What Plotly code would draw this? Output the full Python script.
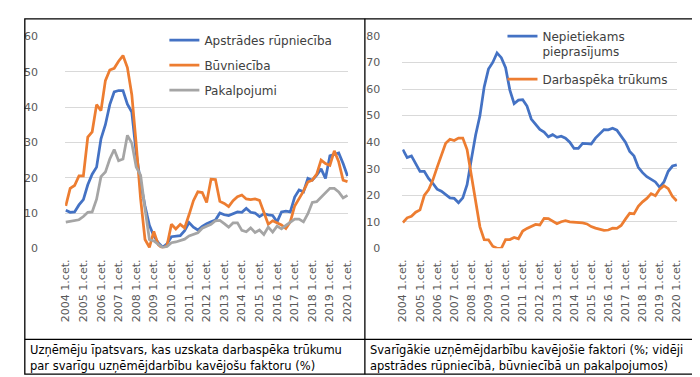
import plotly.graph_objects as go

years = list(range(2004, 2021))
quarters = [f"{y} {q}.cet." for y in years for q in range(1, 5)][:65]
tick_labels = [f"{y} 1.cet." for y in years]

apstrades = [10.8, 10.2, 10.3, 12.3, 13.8, 18, 21, 23, 31, 35, 40.7, 44.3, 44.7, 44.7, 40.8, 38.6,
             27, 18.5, 12, 6.5, 3.5, 1.6, 0.3, 1.3, 3.3, 3.4, 3.6, 5, 7.3, 6, 5.2, 6.2,
             7, 7.5, 8, 10, 9.5, 9.3, 9.8, 10.3, 10.2, 11.3, 10.2, 10, 9, 9.8, 9.5, 9.3,
             7.5, 10.3, 10.5, 10.3, 14.5, 16.5, 16, 19.8, 19.3, 20.7, 22.5, 19.8, 26.2, 26.6, 27, 24,
             20.5]
buvnieciba = [12, 17, 17.8, 20.5, 20.5, 31.5, 33, 40.7, 39, 47.5, 50.5, 51, 53, 54.6, 51.2, 43.5,
              29.5, 14, 2.5, 0.3, 4.8, 1, 0, 0.8, 6.8, 5.5, 6.8, 5.8, 9.5, 13.5, 16, 15.8,
              13, 19.6, 19.5, 13.3, 12.7, 11.8, 13.5, 14.6, 15.1, 14, 13.8, 14, 13.6, 10, 6.8, 7.8,
              7.2, 6.6, 5.6, 7.5, 12, 14, 16.2, 18.8, 19.3, 21, 25, 24, 23.5, 27.6, 24.5, 19.3,
              18.9]
pakalpojumi = [7.4, 7.7, 7.9, 8.1, 9, 10.2, 10.3, 13.9, 20.3, 21.6, 25.3, 28, 24.8, 25.3, 32, 29.8,
               23, 20.7, 11.2, 2.5, 2.1, 1.2, 0.2, 0.5, 1.6, 1.8, 2.1, 2.6, 3.5, 3.9, 4.4, 5.7,
               6.2, 6.8, 7.8, 7.9, 7, 6, 7.2, 7.2, 5.1, 4.7, 5.8, 4.5, 5.2, 3.9, 6, 4.6,
               6.3, 5.5, 6.5, 7.5, 8.3, 8.3, 7.5, 9.8, 13, 13.2, 14.5, 16, 17, 17, 16, 14.3,
               15]
nepietiekams = [37.2, 34.2, 34.8, 31.8, 29, 29, 26.3, 24.5, 22.3, 21.5, 20.2, 19, 18.8, 17.2, 19, 24,
                33.5, 42.7, 49.9, 60.8, 67.5, 70, 73.6, 71.8, 68, 59.6, 54.5, 55.8, 56, 53.6, 48.7, 46.9,
                44.8, 43.8, 42, 42.8, 41.8, 42.2, 41.5, 40, 37.6, 37.6, 39.5, 39.4, 39.3, 41.5, 43.3, 44.7,
                44.6, 45.2, 44.5, 42, 40, 36.5, 34.8, 30.5, 28.5, 27, 26, 25, 23, 25, 29, 31,
                31.4]
darbaspeks = [9.7, 11.5, 12.1, 13.6, 14.5, 19.9, 22, 25.7, 30.5, 35, 39.6, 41.1, 40.6, 41.5, 41.5, 37.2,
              26.9, 17.2, 8.1, 3.3, 3.2, 0.8, 0, 0, 3.3, 3.3, 4.1, 3.6, 6.5, 7.5, 8.1, 9,
              8.8, 11.3, 11.2, 10.4, 9.3, 10, 10.4, 10, 9.9, 9.8, 9.6, 9.2, 8.2, 7.6, 7.1, 6.8,
              6.9, 7.6, 7.5, 8.6, 11, 13.2, 13, 15.8, 17.5, 18.8, 20.6, 19.8, 22.3, 23.6, 22.5, 19.5,
              17.8]

BLUE = "#4472C4"
ORANGE = "#ED7D31"
GRAY = "#A5A5A5"
FONT = "DejaVu Sans, Verdana, sans-serif"
W, H = 700, 377

def px(x):
    return x / W

def py(y):
    return 1 - y / H

fig = go.Figure()
lw = 2.75
fig.add_trace(go.Scatter(x=quarters, y=apstrades, name="Apstrādes rūpniecība", mode="lines",
                         line=dict(color=BLUE, width=lw), xaxis="x", yaxis="y",
                         legend="legend", legendgroup="a", cliponaxis=False))
fig.add_trace(go.Scatter(x=quarters, y=buvnieciba, name="Būvniecība", mode="lines",
                         line=dict(color=ORANGE, width=lw), xaxis="x", yaxis="y",
                         legend="legend", legendgroup="b", cliponaxis=False))
fig.add_trace(go.Scatter(x=quarters, y=pakalpojumi, name="Pakalpojumi", mode="lines",
                         line=dict(color=GRAY, width=lw), xaxis="x", yaxis="y",
                         legend="legend", legendgroup="c", cliponaxis=False))
fig.add_trace(go.Scatter(x=quarters, y=nepietiekams, name="Nepietiekams<br>pieprasījums", mode="lines",
                         line=dict(color=BLUE, width=lw), xaxis="x2", yaxis="y2",
                         legend="legend2", legendgroup="d", cliponaxis=False))
fig.add_trace(go.Scatter(x=quarters, y=darbaspeks, name="Darbaspēka trūkums", mode="lines",
                         line=dict(color=ORANGE, width=lw), xaxis="x2", yaxis="y2",
                         legend="legend2", legendgroup="e", cliponaxis=False))

tickfont = dict(family=FONT, size=11, color="#595959")
common_x = dict(type="category", categoryorder="array", categoryarray=quarters,
                tickmode="array", tickvals=tick_labels, ticktext=tick_labels,
                tickangle=-90, tickfont=tickfont, showgrid=False, zeroline=False,
                showline=False, ticks="", range=[-0.15, 64.15], ticklabelstandoff=8)
common_y = dict(showgrid=True, gridcolor="#D9D9D9", gridwidth=1, zeroline=False,
                showline=False, ticks="", tickfont=tickfont)

legfont = dict(family=FONT, size=12, color="#404040")
fig.update_layout(
    width=W, height=H,
    margin=dict(l=0, r=0, t=0, b=0),
    paper_bgcolor="white", plot_bgcolor="white",
    xaxis=dict(domain=[px(52), px(340)], anchor="y", **common_x),
    yaxis=dict(domain=[py(242.7), py(23.3)], anchor="x", range=[0, 60], dtick=10,
               ticklabelstandoff=26, **common_y),
    xaxis2=dict(domain=[px(395), px(675)], anchor="y2", **common_x),
    yaxis2=dict(domain=[py(242.7), py(22.7)], anchor="x2", range=[0, 80], dtick=10,
                ticklabelstandoff=21, **common_y),
    legend=dict(x=px(153), y=py(12), xanchor="left", yanchor="top",
                font=legfont, bgcolor="rgba(0,0,0,0)", tracegroupgap=6,
                traceorder="grouped", itemwidth=30),
    legend2=dict(x=px(497), y=py(8), xanchor="left", yanchor="top",
                 font=legfont, bgcolor="rgba(0,0,0,0)", tracegroupgap=9,
                 traceorder="grouped", valign="top", itemwidth=30),
    showlegend=True,
)

line = dict(color="black", width=1.3)
fig.add_shape(type="rect", xref="paper", yref="paper", x0=px(11), x1=px(692),
              y0=py(373), y1=py(5), line=line)
fig.add_shape(type="line", xref="paper", yref="paper", x0=px(357), x1=px(357),
              y0=py(373), y1=py(5), line=line)
fig.add_shape(type="line", xref="paper", yref="paper", x0=px(11), x1=px(692),
              y0=py(337), y1=py(337), line=line)

captions = [
    (14, 348, "Uzņēmēju īpatsvars, kas uzskata darbaspēka trūkumu"),
    (14, 365, "par svarīgu uzņēmējdarbību kavējošu faktoru (%)"),
    (360, 348, "Svarīgākie uzņēmējdarbību kavējošie faktori (%; vidēji"),
    (360, 365, "apstrādes rūpniecībā, būvniecībā un pakalpojumos)"),
]
for x, y, t in captions:
    fig.add_annotation(x=px(x), y=py(y), xref="paper", yref="paper", text=t,
                       showarrow=False, xanchor="left", yanchor="middle",
                       font=dict(family=FONT, size=11.5, color="black"))

fig.write_html("out.html")
